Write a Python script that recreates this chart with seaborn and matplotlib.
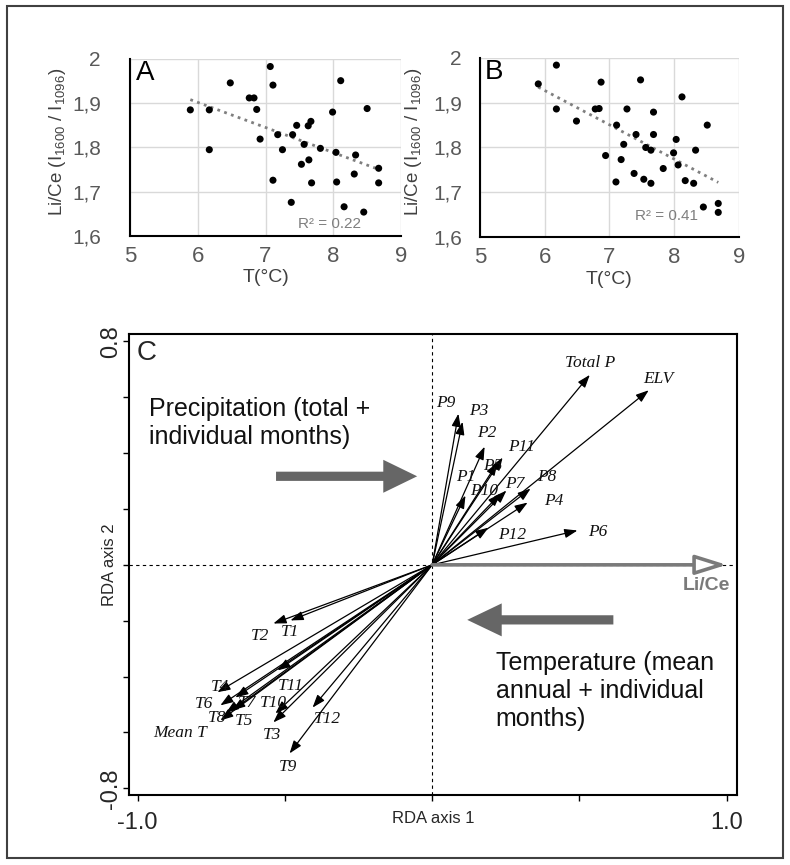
import matplotlib
matplotlib.use("Agg")
import matplotlib.pyplot as plt
from matplotlib import font_manager as fm
from matplotlib.patches import Rectangle
import seaborn as sns
import numpy as np
import pandas as pd

# --- DATA ---
# panel A: Li/Ce vs temperature
a_temp = [5.89, 6.17, 6.17, 6.48, 6.76, 6.83, 6.87, 6.92, 7.07, 7.11, 7.11, 7.18,
          7.25, 7.38, 7.40, 7.46, 7.53, 7.57, 7.63, 7.64, 7.67, 7.68, 7.81, 7.99,
          8.04, 8.05, 8.11, 8.16, 8.31, 8.33, 8.45, 8.50, 8.67, 8.67]
a_ratio = [1.885, 1.885, 1.795, 1.946, 1.912, 1.912, 1.886, 1.819, 1.983, 1.941, 1.726, 1.829,
           1.795, 1.676, 1.829, 1.850, 1.762, 1.807, 1.849, 1.772, 1.859, 1.720, 1.798, 1.880,
           1.789, 1.722, 1.951, 1.666, 1.740, 1.783, 1.654, 1.888, 1.753, 1.720]
# panel B
b_temp = [5.90, 6.18, 6.18, 6.49, 6.78, 6.84, 6.87, 6.94, 7.11, 7.10, 7.18, 7.22,
          7.27, 7.38, 7.41, 7.48, 7.53, 7.56, 7.64, 7.64, 7.68, 7.68, 7.83, 7.99,
          8.03, 8.06, 8.12, 8.17, 8.30, 8.33, 8.45, 8.51, 8.68, 8.68]
b_ratio = [1.942, 1.984, 1.886, 1.859, 1.886, 1.887, 1.946, 1.782, 1.850, 1.723, 1.773, 1.807,
           1.886, 1.742, 1.829, 1.951, 1.729, 1.800, 1.794, 1.720, 1.879, 1.829, 1.753, 1.788,
           1.818, 1.761, 1.913, 1.726, 1.720, 1.794, 1.667, 1.850, 1.675, 1.655]
r2_a = "R² = 0.22"
r2_b = "R² = 0.41"

# panel C: RDA biplot vectors
rda_names = ["Total P", "ELV", "P9", "P3", "P2", "P11", "P5", "P1", "P10", "P7", "P8", "P4",
             "P12", "P6", "T1", "T2", "T4", "T6", "T8", "T7", "T5", "T11", "T10", "T3",
             "T12", "T9", "Mean T"]
rda_x = [0.535, 0.735, 0.089, 0.103, 0.178, 0.239, 0.222, 0.113, 0.232, 0.252, 0.334, 0.324,
         0.191, 0.493, -0.481, -0.539, -0.729, -0.719, -0.719, -0.668, -0.678, -0.525, -0.532, -0.539,
         -0.406, -0.484, -0.700]
rda_y = [0.680, 0.625, 0.541, 0.512, 0.423, 0.384, 0.366, 0.248, 0.255, 0.266, 0.273, 0.223,
         0.133, 0.123, -0.199, -0.210, -0.456, -0.503, -0.557, -0.475, -0.521, -0.378, -0.532, -0.564,
         -0.511, -0.675, -0.530]
lab_x = [0.537, 0.768, 0.045, 0.157, 0.184, 0.303, 0.205, 0.113, 0.178, 0.280, 0.388, 0.412,
         0.272, 0.562, -0.484, -0.583, -0.719, -0.776, -0.729, -0.630, -0.640, -0.481, -0.538, -0.545,
         -0.355, -0.488, -0.855]
lab_y = [0.724, 0.667, 0.581, 0.552, 0.473, 0.423, 0.355, 0.316, 0.266, 0.291, 0.316, 0.230,
         0.108, 0.119, -0.242, -0.256, -0.438, -0.499, -0.549, -0.496, -0.560, -0.435, -0.496, -0.610,
         -0.553, -0.725, -0.603]
lice_score = 1.0

df_a = pd.DataFrame({"T": a_temp, "ratio": a_ratio})
df_b = pd.DataFrame({"T": b_temp, "ratio": b_ratio})
df_rda = pd.DataFrame({"name": rda_names, "x": rda_x, "y": rda_y, "lx": lab_x, "ly": lab_y})


def has_font(name):
    try:
        fm.findfont(name, fallback_to_default=False)
        return True
    except ValueError:
        return False


sns.set_theme(style="white")
plt.rcParams["font.family"] = ["Liberation Sans", "DejaVu Sans"]
plt.rcParams["mathtext.default"] = "regular"
narrow = "Liberation Sans Narrow" if has_font("Liberation Sans Narrow") else "Liberation Sans"

fig = plt.figure(figsize=(7.9, 8.65), dpi=100)
fig.patches.append(Rectangle((0.009, 0.008), 0.982, 0.985, transform=fig.transFigure,
                             fill=False, ec="#404040", lw=1.5))

GREY_TXT = "#595959"


def scatter_panel(ax, df, letter, r2, r2_xy, ypad):
    sns.scatterplot(data=df, x="T", y="ratio", ax=ax, color="black", s=26,
                    edgecolor="none", zorder=3)
    sns.regplot(data=df, x="T", y="ratio", ax=ax, scatter=False, ci=None,
                line_kws=dict(ls=(0, (1, 1.6)), color="#7f7f7f", lw=2))
    ax.set_xlim(5, 9)
    ax.set_ylim(1.6, 2.0)
    ax.set_xticks([5, 6, 7, 8, 9])
    ax.set_xticklabels(["5", "6", "7", "8", "9"], fontfamily=narrow, fontsize=16, color=GREY_TXT)
    ax.set_yticks([1.6, 1.7, 1.8, 1.9, 2.0])
    ax.set_yticklabels(["1,6", "1,7", "1,8", "1,9", "2"], fontfamily=narrow, fontsize=15,
                       color=GREY_TXT)
    ax.tick_params(axis="y", length=0, pad=ypad)
    ax.tick_params(axis="x", length=0, pad=7)
    ax.grid(True, color="#d9d9d9", lw=1)
    for side in ["top", "right"]:
        ax.spines[side].set_visible(False)
    for side in ["left", "bottom"]:
        ax.spines[side].set_color("black")
        ax.spines[side].set_linewidth(1.5)
    ax.set_xlabel("T(°C)", fontsize=14, color="#404040", labelpad=2)
    ax.set_ylabel("Li/Ce (I$_{1600}$ / I$_{1096}$)", fontsize=13.5, color="#404040")
    ax.text(0.02, 0.995, letter, transform=ax.transAxes, fontsize=20, va="top", ha="left",
            color="black")
    ax.text(r2_xy[0], r2_xy[1], r2, fontsize=11, color="#7f7f7f", ha="center", va="center",
            fontfamily=narrow)


ax_a = fig.add_axes([0.1646, 0.7272, 0.343, 0.2046])
scatter_panel(ax_a, df_a, "A", r2_a, (7.95, 1.628), 21)
ax_a.yaxis.set_label_coords(-0.228, 0.53)

ax_b = fig.add_axes([0.6076, 0.726, 0.3278, 0.207])
scatter_panel(ax_b, df_b, "B", r2_b, (7.88, 1.646), 13)
ax_b.yaxis.set_label_coords(-0.215, 0.53)

# --- panel C: RDA biplot ---
ax_c = fig.add_axes([0.1637, 0.0809, 0.7686, 0.5335])
ax_c.set_xlim(-1.028, 1.033)
ax_c.set_ylim(-0.824, 0.828)
ax_c.axhline(0, color="black", lw=0.8, ls=(0, (3, 3)), zorder=1)
ax_c.axvline(0, color="black", lw=0.8, ls=(0, (3, 3)), zorder=1)

for _, row in df_rda.iterrows():
    ax_c.annotate("", xy=(row["x"], row["y"]), xytext=(0, 0),
                  arrowprops=dict(arrowstyle="-|>,head_length=0.7,head_width=0.25",
                                  color="black", lw=0.9, mutation_scale=11,
                                  shrinkA=0, shrinkB=0))
    ax_c.text(row["lx"], row["ly"], row["name"], fontfamily="Liberation Serif",
              style="italic", fontsize=12.5, ha="center", va="center", color="#111111")

# response vector
ax_c.annotate("", xy=(lice_score, 0), xytext=(0, 0),
              arrowprops=dict(arrowstyle="-|>,head_length=0.8,head_width=0.25",
                              ec="#7a7a7a", fc="white", lw=2.6, mutation_scale=24,
                              shrinkA=0, shrinkB=0), zorder=4)
ax_c.text(0.93, -0.074, "Li/Ce", fontsize=14, fontweight="bold", color="#7a7a7a",
          ha="center", va="center")

# big explanatory arrows
ax_c.arrow(-0.530, 0.317, 0.479, 0, width=0.033, head_width=0.118, head_length=0.115,
           length_includes_head=True, color="#666666", lw=0)
ax_c.arrow(0.615, -0.197, -0.496, 0, width=0.033, head_width=0.118, head_length=0.117,
           length_includes_head=True, color="#666666", lw=0)
ax_c.text(-0.960, 0.507, "Precipitation (total +\nindividual months)", fontsize=18,
          ha="left", va="center", color="#111111", linespacing=1.2)
ax_c.text(0.215, -0.452, "Temperature (mean\nannual + individual\nmonths)", fontsize=18,
          ha="left", va="center", color="#111111", linespacing=1.2)
ax_c.text(0.012, 0.985, "C", transform=ax_c.transAxes, fontsize=20, ha="left", va="top")

ax_c.set_xticks([-1.0, -0.5, 0.0, 0.5, 1.0])
ax_c.set_xticklabels(["-1.0", "", "", "", "1.0"], fontsize=17)
ax_c.set_yticks(np.round(np.arange(-0.8, 0.81, 0.2), 1))
ax_c.set_yticklabels(["-0.8", "", "", "", "", "", "", "", "0.8"], fontsize=17,
                     rotation=90, va="center")
ax_c.tick_params(axis="x", direction="out", length=4, width=1, color="black", pad=8,
                 bottom=True)
ax_c.tick_params(axis="y", direction="out", length=4, width=1, color="black", pad=1,
                 left=True)
for side in ax_c.spines:
    ax_c.spines[side].set_color("black")
    ax_c.spines[side].set_linewidth(1.5)
ax_c.set_xlabel("RDA axis 1", fontsize=12, labelpad=-16)
ax_c.set_ylabel("RDA axis 2", fontsize=12, labelpad=-12)

fig.savefig("out.png", dpi=100)
